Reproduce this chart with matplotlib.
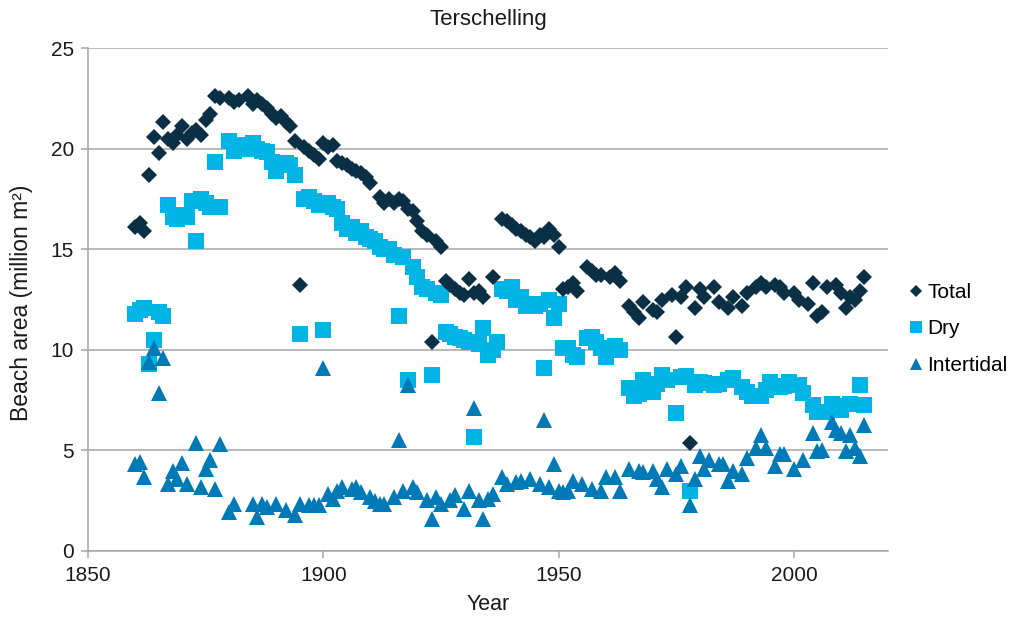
import matplotlib
matplotlib.use("Agg")
import matplotlib.pyplot as plt

plt.rcParams['font.family'] = ['Liberation Sans', 'DejaVu Sans']

title = "Terschelling"
x_label = "Year"
y_label = "Beach area (million m²)"
series_names = ["Total", "Dry", "Intertidal"]

total_years = [1860, 1861, 1862, 1863, 1864, 1865, 1866, 1867, 1868, 1869, 1870, 1871, 1872, 1873, 1874,
               1875, 1876, 1877, 1878, 1880, 1881, 1882, 1884, 1885, 1886, 1887, 1888, 1889, 1890, 1891,
               1892, 1893, 1894, 1895, 1896, 1897, 1898, 1899, 1900, 1901, 1902, 1903, 1904, 1905, 1906,
               1907, 1908, 1909, 1910, 1912, 1913, 1914, 1915, 1916, 1917, 1918, 1919, 1920, 1921, 1922,
               1923, 1924, 1925, 1926, 1927, 1928, 1929, 1930, 1931, 1932, 1933, 1934, 1936, 1938, 1939,
               1940, 1941, 1942, 1943, 1944, 1945, 1946, 1947, 1948, 1949, 1950, 1951, 1952, 1953, 1954,
               1956, 1957, 1958, 1959, 1961, 1962, 1963, 1965, 1966, 1967, 1968, 1970, 1971, 1972, 1974,
               1975, 1976, 1977, 1978, 1979, 1980, 1981, 1983, 1984, 1986, 1987, 1989, 1990, 1992, 1993,
               1994, 1996, 1997, 1998, 2000, 2001, 2003, 2004, 2005, 2006, 2007, 2009, 2010, 2011, 2012,
               2013, 2014, 2015]
total_values = [16.1, 16.3, 15.9, 18.7, 20.6, 19.8, 21.3, 20.5, 20.3, 20.7, 21.1, 20.5, 20.8, 20.9, 20.7,
                21.4, 21.7, 22.6, 22.5, 22.5, 22.3, 22.4, 22.6, 22.2, 22.4, 22.2, 22.0, 21.7, 21.5, 21.6,
                21.3, 21.1, 20.4, 13.2, 20.1, 19.9, 19.7, 19.5, 20.3, 20.1, 20.2, 19.4, 19.3, 19.2, 19.0,
                18.9, 18.8, 18.6, 18.3, 17.6, 17.3, 17.5, 17.3, 17.5, 17.4, 17.0, 16.9, 16.4, 15.9, 15.7,
                10.4, 15.4, 15.1, 13.4, 13.2, 13.0, 12.8, 12.7, 13.5, 12.8, 12.9, 12.6, 13.6, 16.5, 16.4,
                16.2, 16.0, 15.9, 15.7, 15.6, 15.4, 15.7, 15.6, 16.0, 15.7, 15.1, 13.0, 13.1, 13.3, 12.9,
                14.1, 13.9, 13.7, 13.7, 13.6, 13.8, 13.4, 12.2, 11.9, 11.6, 12.4, 12.0, 11.9, 12.5, 12.7,
                10.65, 12.6, 13.1, 5.35, 12.1, 13.0, 12.6, 13.1, 12.4, 12.1, 12.6, 12.2, 12.8, 13.1, 13.3,
                13.1, 13.2, 13.1, 12.8, 12.8, 12.5, 12.3, 13.3, 11.7, 11.9, 13.1, 13.2, 12.8, 12.1, 12.6,
                12.5, 12.9, 13.6]

dry_years = [1860, 1861, 1862, 1863, 1864, 1865, 1866, 1867, 1868, 1869, 1870, 1871, 1872, 1873, 1874,
             1875, 1876, 1877, 1878, 1880, 1881, 1883, 1884, 1885, 1886, 1887, 1888, 1889, 1890, 1892,
             1893, 1894, 1895, 1896, 1897, 1898, 1899, 1900, 1901, 1902, 1903, 1904, 1905, 1906, 1907,
             1908, 1909, 1910, 1911, 1912, 1913, 1914, 1915, 1916, 1917, 1918, 1919, 1920, 1921, 1922,
             1923, 1924, 1925, 1926, 1927, 1928, 1929, 1930, 1931, 1932, 1933, 1934, 1935, 1936, 1937,
             1938, 1939, 1940, 1941, 1942, 1943, 1944, 1945, 1946, 1947, 1948, 1949, 1950, 1951, 1952,
             1953, 1954, 1956, 1957, 1958, 1959, 1960, 1962, 1963, 1965, 1966, 1967, 1968, 1970, 1971,
             1972, 1973, 1975, 1976, 1977, 1978, 1979, 1980, 1981, 1983, 1984, 1986, 1987, 1989, 1990,
             1991, 1993, 1994, 1995, 1997, 1998, 1999, 2001, 2002, 2004, 2005, 2007, 2008, 2009, 2010,
             2012, 2014, 2015]
dry_values = [11.8, 12.0, 12.1, 9.3, 10.5, 11.9, 11.7, 17.2, 16.6, 16.5, 16.7, 16.6, 17.4, 15.4, 17.5,
              17.3, 17.1, 19.35, 17.1, 20.4, 19.9, 20.2, 20.0, 20.3, 20.0, 19.9, 19.85, 19.35, 18.9, 19.3,
              19.2, 18.7, 10.8, 17.5, 17.6, 17.4, 17.2, 11.0, 17.3, 17.1, 17.0, 16.3, 16.0, 16.1, 15.8,
              15.9, 15.6, 15.5, 15.4, 15.1, 15.0, 15.0, 14.7, 11.7, 14.6, 8.5, 14.1, 13.6, 13.1, 13.0,
              8.75, 12.8, 12.7, 10.9, 10.8, 10.65, 10.6, 10.5, 10.4, 5.65, 10.3, 11.1, 9.75, 10.0, 10.4,
              13.0, 12.9, 13.1, 12.5, 12.6, 12.2, 12.3, 12.2, 12.3, 9.1, 12.5, 11.6, 12.3, 10.1, 10.1,
              9.75, 9.65, 10.6, 10.65, 10.4, 10.1, 9.65, 10.2, 10.0, 8.1, 7.7, 7.8, 8.5, 7.9, 8.3,
              8.75, 8.5, 6.85, 8.65, 8.7, 3.0, 8.25, 8.4, 8.35, 8.25, 8.3, 8.5, 8.6, 8.15, 7.9,
              7.7, 7.7, 8.0, 8.4, 8.15, 8.2, 8.4, 8.25, 7.85, 7.25, 6.9, 6.9, 7.3, 7.2, 7.0,
              7.3, 8.25, 7.25]

inter_years = [1860, 1861, 1862, 1863, 1864, 1865, 1866, 1867, 1868, 1869, 1870, 1871, 1873, 1874, 1875,
               1876, 1877, 1878, 1880, 1881, 1885, 1886, 1887, 1888, 1890, 1892, 1894, 1895, 1897, 1898,
               1899, 1900, 1901, 1902, 1903, 1904, 1906, 1907, 1908, 1910, 1911, 1912, 1913, 1915, 1916,
               1917, 1918, 1919, 1920, 1922, 1923, 1924, 1925, 1927, 1928, 1930, 1931, 1932, 1933, 1934,
               1935, 1936, 1938, 1939, 1941, 1942, 1944, 1946, 1947, 1948, 1949, 1950, 1951, 1952, 1953,
               1955, 1957, 1959, 1960, 1962, 1963, 1965, 1967, 1968, 1970, 1971, 1972, 1973, 1975, 1976,
               1978, 1979, 1980, 1981, 1982, 1984, 1985, 1986, 1987, 1989, 1990, 1992, 1993, 1994, 1996,
               1997, 1998, 2000, 2002, 2004, 2005, 2006, 2008, 2009, 2010, 2011, 2012, 2013, 2014, 2015]
inter_values = [4.3, 4.4, 3.7, 9.4, 10.1, 7.85, 9.6, 3.35, 4.0, 3.6, 4.35, 3.35, 5.35, 3.2, 4.1,
                4.5, 3.1, 5.3, 1.95, 2.35, 2.35, 1.7, 2.35, 2.2, 2.35, 2.05, 1.8, 2.35, 2.3, 2.3,
                2.3, 9.1, 2.85, 2.6, 3.0, 3.2, 3.1, 3.2, 2.95, 2.7, 2.5, 2.35, 2.35, 2.7, 5.5,
                3.0, 8.25, 3.2, 2.95, 2.55, 1.6, 2.7, 2.35, 2.55, 2.8, 2.1, 3.0, 7.1, 2.55, 1.6,
                2.6, 2.85, 3.7, 3.35, 3.45, 3.5, 3.6, 3.35, 6.5, 3.2, 4.3, 3.0, 2.95, 3.0, 3.5,
                3.35, 3.1, 3.0, 3.7, 3.7, 3.0, 4.1, 4.0, 3.95, 4.0, 3.6, 3.2, 4.1, 3.85, 4.2,
                2.3, 3.6, 4.7, 4.1, 4.5, 4.3, 4.3, 3.5, 4.0, 3.85, 4.6, 5.1, 5.75, 5.1, 4.2,
                4.8, 4.8, 4.1, 4.5, 5.85, 4.95, 5.0, 6.4, 6.0, 5.85, 4.95, 5.75, 5.1, 4.7, 6.25]

x_ticks = [1850, 1900, 1950, 2000]
y_ticks = [0, 5, 10, 15, 20, 25]

c_total = "#0B2F45"
c_dry = "#00B5E6"
c_inter = "#0079B7"
grid_c = "#A6A6A6"

W, H = 1026, 619
fig = plt.figure(figsize=(W / 100, H / 100), dpi=100)
ax = fig.add_axes([88 / W, 1 - 551 / H, 800 / W, 503 / H])

ax.plot(inter_years, inter_values, linestyle="none", marker="^", markersize=11.3,
        color=c_inter, markeredgewidth=0, label=series_names[2], zorder=3)
ax.plot(dry_years, dry_values, linestyle="none", marker="s", markersize=11,
        color=c_dry, markeredgewidth=0, label=series_names[1], zorder=2)
ax.plot(total_years, total_values, linestyle="none", marker="D", markersize=8.5,
        color=c_total, markeredgewidth=0, label=series_names[0], zorder=4)

ax.set_xlim(1850, 2020)
ax.set_ylim(0, 25)
ax.set_xticks(x_ticks)
ax.set_yticks(y_ticks)
ax.yaxis.grid(True, color=grid_c, linewidth=1.1)
ax.set_axisbelow(True)
for s in ["top", "right"]:
    ax.spines[s].set_visible(False)
for s in ["left", "bottom"]:
    ax.spines[s].set_color(grid_c)
    ax.spines[s].set_linewidth(1.1)
ax.tick_params(axis="both", colors=grid_c, labelcolor="#1a1a1a", labelsize=15,
               length=5, width=1.1)
ax.tick_params(axis="x", pad=6)
ax.tick_params(axis="y", pad=5)

fig.text(488 / W, 1 - 20 / H, title, ha="center", va="center", fontsize=16, color="#1a1a1a")
fig.text(488 / W, 1 - 605 / H, x_label, ha="center", va="center", fontsize=15.5, color="#1a1a1a")
fig.text(22 / W, 1 - 303 / H, y_label, ha="center", va="center", rotation=90, fontsize=16.5,
         color="#1a1a1a")

handles, labels = ax.get_legend_handles_labels()
order = [2, 1, 0]
leg = fig.legend([handles[i] for i in order], [labels[i] for i in order],
                 loc="center left", bbox_to_anchor=(900 / W, 1 - 329 / H), frameon=False,
                 fontsize=15, markerscale=0.75, handlelength=0.7, handletextpad=0.2,
                 labelspacing=0.85, borderaxespad=0)

fig.savefig("out.png", dpi=100)
